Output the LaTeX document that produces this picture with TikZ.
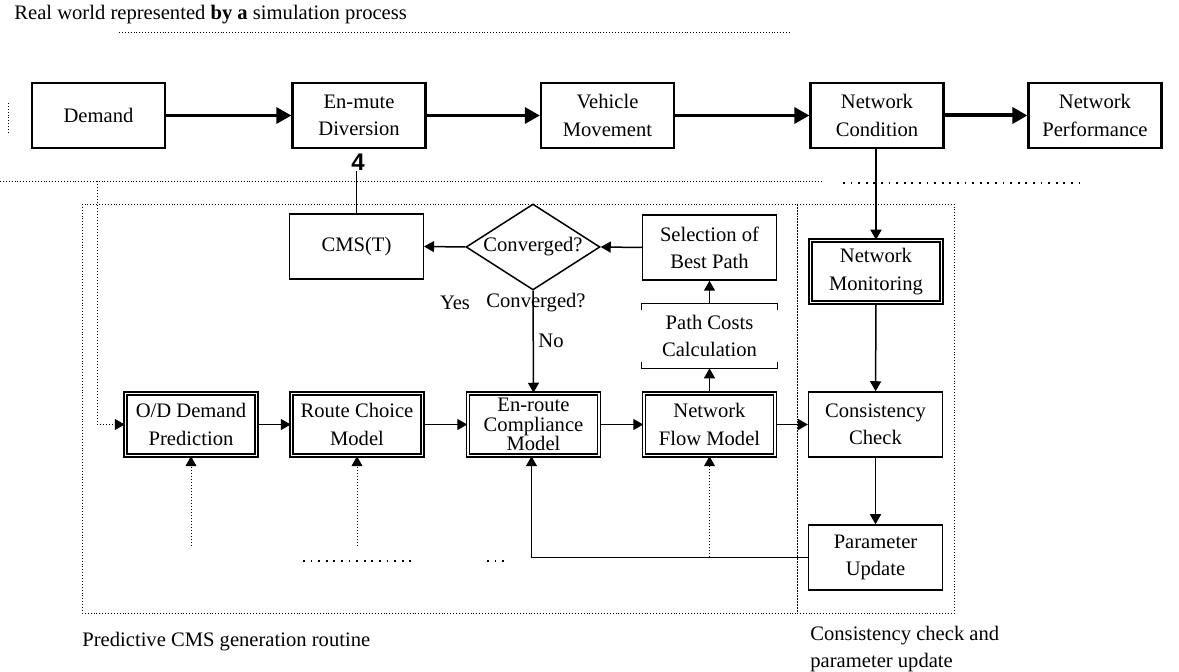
\documentclass[tikz,border=0pt]{standalone}
\usepackage{fontspec}
\setmainfont{Liberation Serif}
\newfontfamily\digitfont{Liberation Sans}
\usetikzlibrary{arrows.meta,shapes.geometric}

\tikzset{
  txt/.style={font=\fontsize{10.3}{13.6}\selectfont, align=center, inner sep=1pt},
  topbox/.style={txt, draw, line width=1.1pt, minimum width=66.5pt, minimum height=32.5pt},
  plainbox/.style={txt, draw, line width=0.75pt, minimum width=66.8pt, minimum height=32.5pt},
  dblbox/.style={txt, draw, line width=0.75pt, double, double distance=0.9pt, minimum width=65.5pt, minimum height=31pt},
  decide/.style={txt, draw, diamond, line width=0.75pt, aspect=1.56, inner sep=0pt, minimum width=67pt, minimum height=43pt},
  flow/.style={line width=1.6pt, -{Triangle[length=7.5pt,width=8pt]}},
  link/.style={line width=0.75pt, -{Triangle[length=5pt,width=5.5pt]}},
  feed/.style={densely dotted, line width=0.5pt, -{Triangle[length=5pt,width=5.5pt]}},
  region/.style={densely dotted, line width=0.45pt},
  spaced/.style={dash pattern=on 0.9pt off 2.9pt, line width=0.8pt},
}

\begin{document}
\begin{tikzpicture}[x=0.5pt, y=-0.5pt]
\useasboundingbox (0,0) rectangle (1179,672);

% real world part
\node[txt, anchor=base west] (title) at (12,20) {Real world represented \textbf{by a} simulation process};
\draw[region] (119,32) -- (790,32);
\draw[region] (8,103) -- (8,133);
\draw[region] (0,181) -- (822,181);
\draw[spaced] (843,183) -- (1080,183);

\node[topbox] (dem) at (98.5,115.5) {Demand};
\node[topbox] (div) at (359,115.5) {En-mute\\Diversion};
\node[topbox] (veh) at (607.5,115.5) {Vehicle\\Movement};
\node[topbox] (cond) at (877,115.5) {Network\\Condition};
\node[topbox] (perf) at (1095,115.5) {Network\\Performance};

\draw[flow] (dem) -- (div);
\draw[flow] (div) -- (veh);
\draw[flow] (veh) -- (cond);
\draw[flow, line width=2pt] (cond) -- (perf);

% predictive CMS generation routine
\draw[region] (82,204) rectangle (797,613);
\node[txt, anchor=base west] (predlbl) at (80,647) {Predictive CMS generation routine};

\node[plainbox] (cms) at (356.5,246.5) {CMS(T)};
\node[decide] (conv) at (533,247) {Converged?};
\node[plainbox] (best) at (709.5,247.5) {Selection of\\Best Path};
\node[txt, minimum width=67.5pt, minimum height=32pt] (cost) at (709.5,336) {Path Costs\\Calculation};
\draw[line width=0.75pt] ([yshift=-3pt]cost.north west) -- (cost.north west) -- (cost.north east) -- ([yshift=-3pt]cost.north east);
\draw[line width=0.75pt] ([yshift=3pt]cost.south west) -- (cost.south west) -- (cost.south east) -- ([yshift=3pt]cost.south east);

\node[txt] (yes) at (455,303) {Yes};
\node[txt] (conv2) at (536,303) {Converged?};
\node[txt] (no) at (551,341) {No};

\node[dblbox] (od) at (191,424.5) {O/D Demand\\Prediction};
\node[dblbox] (route) at (357,424.5) {Route Choice\\Model};
\node[dblbox, font=\fontsize{10.3}{9.8}\selectfont] (comp) at (533.5,424.5) {En-route\\Compliance\\Model};
\node[dblbox] (nfm) at (709.5,424.5) {Network\\Flow Model};

\node[font=\digitfont\bfseries\fontsize{12}{12}\selectfont, inner sep=0pt] (four) at (358,162) {4};
\draw[line width=0.75pt] (cms.north) -- (cms.north |- four.south);
\draw[link] (conv.west) -- (cms.east);
\draw[link] (best.west) -- (conv.east);
\draw[link] (cost) -- (best);
\draw[link] (nfm) -- (cost);
\draw[link] (conv.south) -- (comp.north);
\draw[link] (od) -- (route);
\draw[link] (route) -- (comp);
\draw[link] (comp) -- (nfm);

\coordinate (rwin) at (97,181);
\coordinate (odin) at (191,546);
\coordinate (routein) at (357,546);
\draw[feed] (rwin) |- (od.west);
\draw[feed] (odin) -- (od.south);
\draw[feed] (routein) -- (route.south);
\draw[spaced] (303,561) -- (415,561);
\draw[spaced] (487,561) -- (507,561);

% consistency check and parameter update
\draw[region] (797,204) rectangle (954,613);
\node[txt, anchor=base west, align=left] (conslbl) at (808,668) {Consistency check and\\parameter update};

\node[dblbox] (mon) at (876,271.5) {Network\\Monitoring};
\node[plainbox] (check) at (875.5,424.5) {Consistency\\Check};
\node[plainbox] (upd) at (875.5,557.5) {Parameter\\Update};

\draw[link] (cond.south -| mon.north) -- (mon.north);
\draw[link] (mon) -- (check);
\draw[link] (check) -- (upd);
\draw[link] (nfm) -- (check);
\draw[link] (upd.west) -| ([xshift=-1pt]comp.south);
\draw[feed] (nfm.south |- upd.west) -- (nfm.south);
\end{tikzpicture}
\end{document}
